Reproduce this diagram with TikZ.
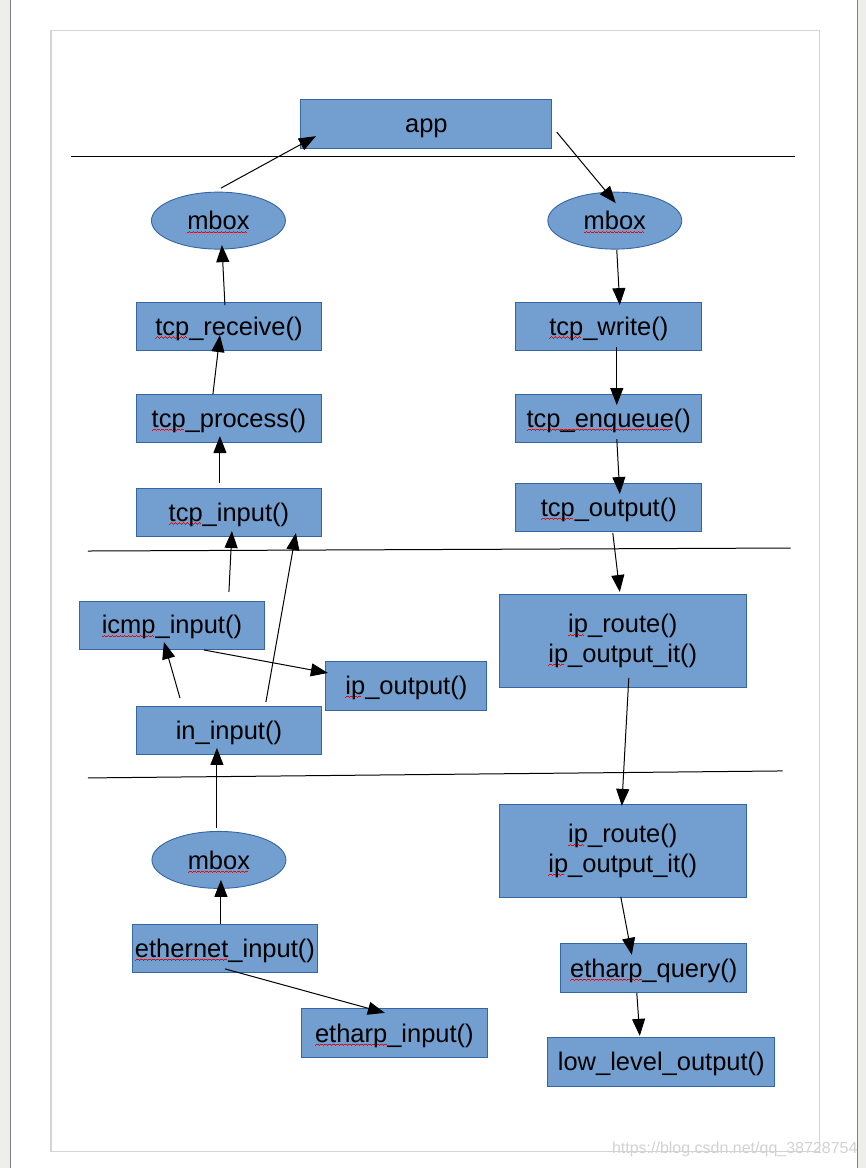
\documentclass[tikz,border=0pt]{standalone}
\usepackage{fontspec}
\setmainfont{Liberation Sans}
\usepackage{tikz}
\usetikzlibrary{shapes.geometric, arrows.meta}
\usepackage{xcolor}
\definecolor{boxfill}{HTML}{729FCF}
\definecolor{boxline}{HTML}{3465A4}
\definecolor{framegray}{HTML}{D4D4D4}
\definecolor{sidegray}{HTML}{EEEEEC}
\newcommand\wavebit{\rule[-1.2pt]{1pt}{0.7pt}\rule[-0.6pt]{1pt}{0.7pt}\rule[0pt]{1pt}{0.7pt}\rule[-0.6pt]{1pt}{0.7pt}}
\newcommand\spellmark[1]{\setbox0=\hbox{#1}\rlap{\color{red}\raisebox{-2pt}[0pt][0pt]{\hbox to \wd0{\leaders\hbox{\wavebit}\hfill}}}\box0}

\begin{document}
\begin{tikzpicture}[x=1pt,y=-1pt,
    box/.style={rectangle,draw=boxline,fill=boxfill,line width=0.9pt,inner sep=0pt,
        minimum width=186pt,minimum height=48pt,font=\fontsize{25.5}{29.5}\selectfont},
    func/.style={box,text height=23.5pt,text depth=5.5pt},
    route/.style={box,minimum width=247pt,minimum height=93pt,align=center},
    mbx/.style={ellipse,draw=boxline,fill=boxfill,line width=0.9pt,inner sep=0pt,
        minimum width=134pt,minimum height=57pt,text height=18.6pt,text depth=0pt,
        font=\fontsize{25.5}{29.5}\selectfont},
    link/.style={-{Triangle[length=17pt,width=13pt]},line width=1pt},
    layer/.style={line width=1pt}]
            \fill[white] (0,0) rectangle (866,1168);
            \fill[sidegray] (0,0) rectangle (10,1168);
            \draw[gray] (10.5,0) -- (10.5,1168);
            \fill[sidegray] (857,0) rectangle (866,1168);
            \draw[gray] (857.5,0) -- (857.5,1168);
            \draw[framegray,line width=1.2pt] (51,30.5) rectangle (819.5,1151.5);
            \draw[layer] (71,156) -- (795,156);
            \draw[layer] (88,551) -- (791,548);
            \draw[layer] (88,778) -- (783,771);

            \node[func,minimum width=251pt,minimum height=49pt] (app) at (426.5,123.5) {app};
            \node[mbx] (mboxRx) at (218.5,220.5) {\spellmark{mbox}};
            \node[mbx] (mboxTx) at (615,220.5) {\spellmark{mbox}};
            \node[func] (tcpRecv) at (229,326) {\spellmark{tcp}\_receive()};
            \node[func] (tcpProc) at (229,418.5) {\spellmark{tcp}\_process()};
            \node[func] (tcpIn) at (229,512) {\spellmark{tcp}\_input()};
            \node[func] (tcpWrite) at (609,326) {\spellmark{tcp}\_write()};
            \node[func] (tcpEnq) at (609,418.5) {\spellmark{tcp\_enqueue}()};
            \node[func] (tcpOut) at (609,507.5) {\spellmark{tcp}\_output()};
            \node[func] (icmpIn) at (172,625) {\spellmark{icmp}\_input()};
            \node[func,minimum width=161pt,minimum height=49pt] (ipOut) at (406.5,685.5) {\spellmark{ip}\_output()};
            \node[func] (inIn) at (229,730.5) {in\_input()};
            \node[route] (ipRoute) at (623,641) {\spellmark{ip}\_route()\\\spellmark{ip}\_output\_it()};
            \node[route] (ipRouteLow) at (623,851) {\spellmark{ip}\_route()\\\spellmark{ip}\_output\_it()};
            \node[mbx] (mboxEth) at (219,860) {\spellmark{mbox}};
            \node[func] (ethIn) at (225,948.5) {\spellmark{ethernet}\_input()};
            \node[func,minimum height=49pt] (etharpIn) at (394.5,1033.5) {\spellmark{etharp}\_input()};
            \node[func,minimum height=49pt] (etharpQ) at (654,968.5) {\spellmark{etharp}\_query()};
            \node[func,minimum width=227pt,minimum height=49pt] (lowOut) at (661.5,1062) {low\_level\_output()};
            \node[text=gray!35,font=\fontsize{16}{18}\selectfont] (mark) at (735,1150) {https://blog.csdn.net/qq\_38728754};

            \draw[link] ([shift={(2.5,-32.5)}]mboxRx.center) -- ([shift={(-110.5,12.5)}]app.center);
            \draw[link] ([shift={(130.5,8.5)}]app.center) -- ([shift={(1,-17.5)}]mboxTx.center);
            \draw[link] ([shift={(-4,-21)}]tcpRecv.center) -- ([shift={(3.5,24.5)}]mboxRx.center);
            \draw[link] ([shift={(2,29.5)}]mboxTx.center) -- ([shift={(11,-21)}]tcpWrite.center);
            \draw[link] ([shift={(-16,-24.5)}]tcpProc.center) -- ([shift={(-9,9)}]tcpRecv.center);
            \draw[link] ([shift={(-9,-29)}]tcpIn.center) -- ([shift={(-9,17.5)}]tcpProc.center);
            \draw[link] ([shift={(8,21)}]tcpWrite.center) -- ([shift={(8,-13.5)}]tcpEnq.center);
            \draw[link] ([shift={(8,20.5)}]tcpEnq.center) -- ([shift={(11,-13.5)}]tcpOut.center);
            \draw[link] ([shift={(4,25.5)}]tcpOut.center) -- ([shift={(-3,-49)}]ipRoute.center);
            \draw[link] ([shift={(57,-33)}]icmpIn.center) -- ([shift={(3,19)}]tcpIn.center);
            \draw[link] ([shift={(37,-28.5)}]inIn.center) -- ([shift={(67,21)}]tcpIn.center);
            \draw[link] ([shift={(-49,-32.5)}]inIn.center) -- ([shift={(-8,17)}]icmpIn.center);
            \draw[link] ([shift={(32,25)}]icmpIn.center) -- ([shift={(-78.5,-12.5)}]ipOut.center);
            \draw[link] ([shift={(6,37)}]ipRoute.center) -- ([shift={(-1,-45)}]ipRouteLow.center);
            \draw[link] ([shift={(-2,-32)}]mboxEth.center) -- ([shift={(-12,17.5)}]inIn.center);
            \draw[link] ([shift={(-4,-24.5)}]ethIn.center) -- ([shift={(2,20)}]mboxEth.center);
            \draw[link] ([shift={(0,20.5)}]ethIn.center) -- ([shift={(-9.5,-20.5)}]etharpIn.center);
            \draw[link] ([shift={(-2,46)}]ipRouteLow.center) -- ([shift={(-22,-13.5)}]etharpQ.center);
            \draw[link] ([shift={(-17,24.5)}]etharpQ.center) -- ([shift={(-21.5,-26)}]lowOut.center);
\end{tikzpicture}
\end{document}
